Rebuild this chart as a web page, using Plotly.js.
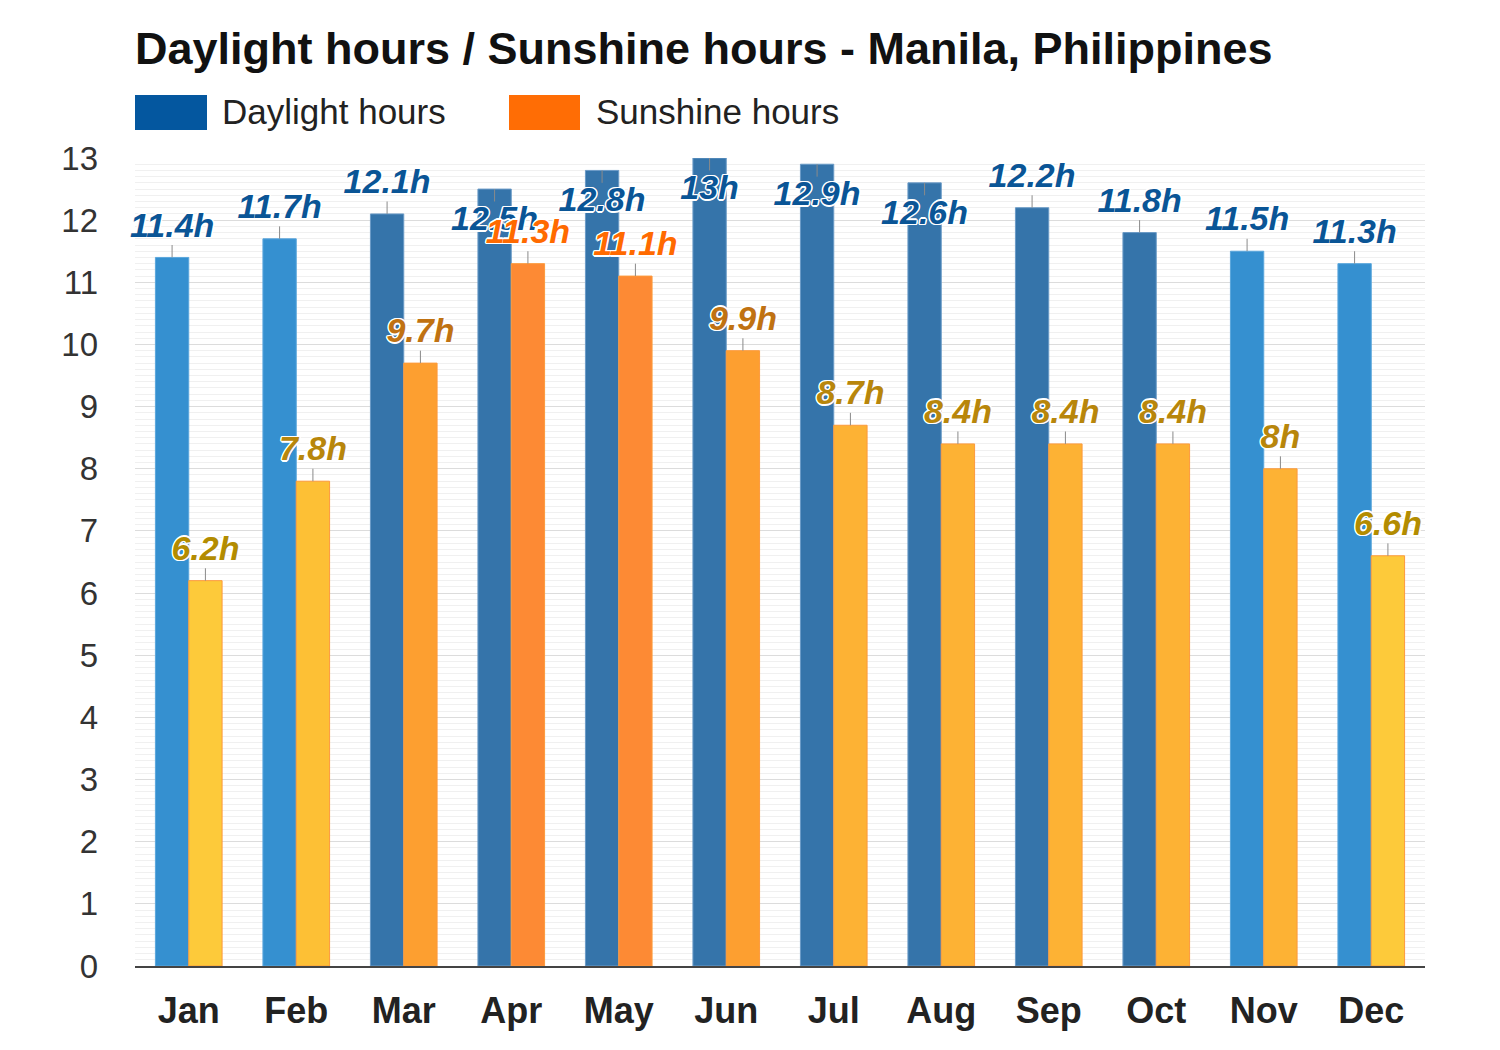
<!DOCTYPE html>
<html>
<head>
<meta charset="utf-8">
<script src="https://cdn.plot.ly/plotly-3.0.1.min.js"></script>
<style>html,body{margin:0;padding:0;background:#fff;}#chart{width:1500px;height:1050px;}</style>
</head>
<body>
<div id="chart"></div>
<script>
const months = ["Jan","Feb","Mar","Apr","May","Jun","Jul","Aug","Sep","Oct","Nov","Dec"];
const daylight = [11.4, 11.7, 12.1, 12.5, 12.8, 13, 12.9, 12.6, 12.2, 11.8, 11.5, 11.3];
const sunshine = [6.2, 7.8, 9.7, 11.3, 11.1, 9.9, 8.7, 8.4, 8.4, 8.4, 8, 6.6];
const daylightLabels = daylight.map(v => v + "h");
const sunshineLabels = sunshine.map(v => v + "h");

const YMAX = 13;
const TICK = 0.2;      // length of the little marker line (data units)
const LABEL_H = 0.6;   // approximate label height in data units
const INSIDE_GAP = 0.25;
function inside(v){ return v + TICK + LABEL_H > YMAX; }

function dayColor(v){ return v >= 11.75 ? "#3574aa" : "#3590d0"; }
function dayLine(v){ return v >= 11.75 ? "#6a9ac6" : "#5aa6dc"; }
function sunColor(v){
  if (v >= 11) return "#fd8a34";
  if (v >= 9.5) return "#fd9f30";
  if (v >= 8) return "#fdb234";
  if (v >= 7.5) return "#fdc035";
  return "#fdca3a";
}
function sunLabel(v){
  if (v >= 11) return "#ff6a00";
  if (v >= 9.5) return "#c07212";
  if (v >= 7.5) return "#b8860b";
  return "#b38c00";
}

const idx = months.map((m,i)=>i);
const BW = 0.31;
const outline = "1.5px 0 0 #fff, -1.5px 0 0 #fff, 0 1.5px 0 #fff, 0 -1.5px 0 #fff, 1px 1px 0 #fff, -1px -1px 0 #fff, 1px -1px 0 #fff, -1px 1px 0 #fff";

function errFor(vals){
  return {type:"data", symmetric:false,
    array: vals.map(v => inside(v) ? 0 : TICK),
    arrayminus: vals.map(v => inside(v) ? TICK : 0),
    width:0, thickness:1, color:"#8a8a8a"};
}
function labelY(vals){ return vals.map(v => inside(v) ? v - INSIDE_GAP : v + TICK); }
function labelPos(vals){ return vals.map(v => inside(v) ? "bottom center" : "top center"); }

const labelFont = {family:"Liberation Sans, Arial, sans-serif", size:34, weight:"bold", style:"italic", shadow: outline};

const traces = [
  {type:"bar", x: idx, y: daylight, width: BW, offset: -BW, name:"Daylight hours",
   marker:{color: daylight.map(dayColor), line:{color: daylight.map(dayLine), width:1}},
   error_y: errFor(daylight), hoverinfo:"y", showlegend:false},
  {type:"bar", x: idx, y: sunshine, width: BW, offset: 0, name:"Sunshine hours",
   marker:{color: sunshine.map(sunColor), line:{color:"#fd9a3c", width:1}},
   error_y: errFor(sunshine), hoverinfo:"y", showlegend:false},
  {type:"scatter", mode:"text", x: idx.map(i=>i-BW/2), y: labelY(daylight), text: daylightLabels,
   textposition: labelPos(daylight), cliponaxis:false, showlegend:false, hoverinfo:"skip",
   textfont: Object.assign({}, labelFont, {color:"#0a5596"})},
  {type:"scatter", mode:"text", x: idx.map(i=>i+BW/2), y: labelY(sunshine), text: sunshineLabels,
   textposition: labelPos(sunshine), cliponaxis:false, showlegend:false, hoverinfo:"skip",
   textfont: Object.assign({}, labelFont, {color: sunshine.map(sunLabel)})}
];

const H = 808, W = 1290;
const layout = {
  width:1500, height:1050,
  margin:{l:135, r:75, t:158, b:84},
  paper_bgcolor:"#ffffff", plot_bgcolor:"#ffffff",
  barmode:"overlay",
  showlegend:false,
  font:{family:"Liberation Sans, Arial, sans-serif", color:"#333"},
  title:{text:"Daylight hours / Sunshine hours - Manila, Philippines",
    font:{family:"Liberation Sans, Arial, sans-serif", size:45, weight:"bold", color:"#111"},
    x:0, xref:"paper", xanchor:"left", y:1-48/1050, yref:"container", yanchor:"middle"},
  xaxis:{range:[-0.5, 11.5], tickvals: idx, ticktext: months, showgrid:false, zeroline:false,
    showline:true, linecolor:"#444", linewidth:1.5, ticks:"", fixedrange:true,
    tickfont:{size:36, weight:"bold", color:"#222"}, ticklabelstandoff: 12},
  yaxis:{range:[0,YMAX], dtick:1, tick0:0, showgrid:true, gridcolor:"#dcdcdc", gridwidth:1,
    zeroline:false, ticks:"", tickfont:{size:33, color:"#333"}, ticklabelstandoff: 36, fixedrange:true,
    minor:{dtick:0.1, showgrid:true, gridcolor:"#f0f0f0", gridwidth:1}},
  shapes:[
    {type:"rect", xref:"paper", yref:"paper", x0:0, x1:72/W, y0:(966-130)/H, y1:(966-95)/H, fillcolor:"#04579f", line:{width:0}},
    {type:"rect", xref:"paper", yref:"paper", x0:374/W, x1:445/W, y0:(966-130)/H, y1:(966-95)/H, fillcolor:"#ff6d05", line:{width:0}}
  ],
  annotations:[
    {xref:"paper", yref:"paper", x:85/W, y:(966-112)/H, xanchor:"left", yanchor:"middle", showarrow:false,
     text:"Daylight hours", font:{size:35, color:"#222"}},
    {xref:"paper", yref:"paper", x:459/W, y:(966-112)/H, xanchor:"left", yanchor:"middle", showarrow:false,
     text:"Sunshine hours", font:{size:35, color:"#222"}}
  ]
};
Plotly.newPlot("chart", traces, layout, {displayModeBar:false, staticPlot:true});
</script>
</body>
</html>
